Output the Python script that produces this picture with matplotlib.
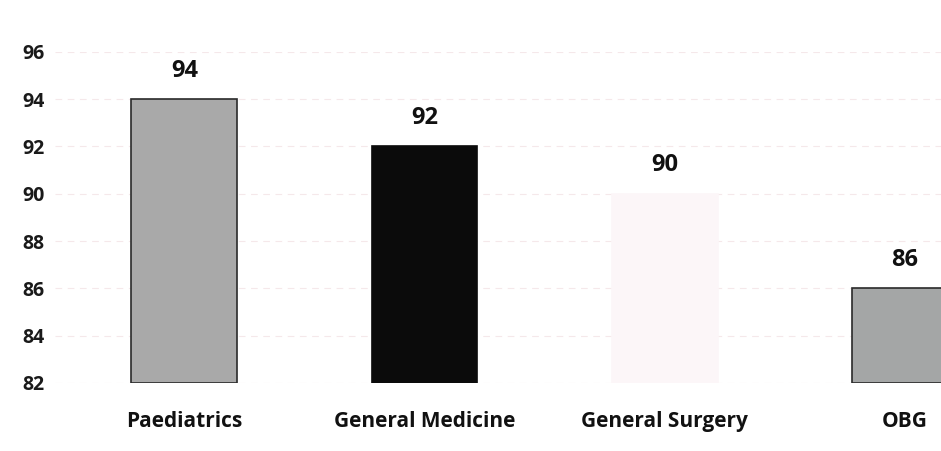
import numpy as np
import matplotlib.pyplot as plt

plt.rcParams['font.family'] = ['Open Sans', 'DejaVu Sans']

departments = ["Paediatrics", "General Medicine", "General Surgery", "OBG"]
scores = [94, 92, 90, 86]
bar_colors = ["#a9a9a9", "#0b0b0b", "#fcf6f8", "#a4a6a6"]
edge_colors = ["#2a2a2a", "#0b0b0b", "#fcf6f8", "#2a2a2a"]
yticks = [82, 84, 86, 88, 90, 92, 94, 96]

fig = plt.figure(figsize=(9.41, 4.51), dpi=100)
ax = fig.add_axes([0.058, 0.151, 0.942, 0.734])

x = np.arange(len(departments))
bars = ax.bar(x, [s - 82 for s in scores], bottom=82, width=0.44,
              color=bar_colors, edgecolor=edge_colors, linewidth=1.2, zorder=3)

for xi, s in zip(x, scores):
    ax.text(xi, s + 0.7, str(s), ha='center', va='bottom',
            fontsize=17, fontweight='bold', color='#111111')

ax.set_xlim(-0.54, 3.15)
ax.set_ylim(82, 96)
ax.set_yticks(yticks)
ax.set_yticklabels([str(t) for t in yticks], fontsize=14, fontweight='bold', color='#1a1a1a')
ax.set_xticks(x)
ax.set_xticklabels(departments, fontsize=15, fontweight='bold', color='#111111')
ax.tick_params(axis='both', length=0)
ax.tick_params(axis='x', pad=20)
ax.tick_params(axis='y', pad=7)

ax.yaxis.grid(True, color='#f5e8ea', linewidth=0.8, linestyle=(0, (6, 5)), zorder=0)
for sp in ax.spines.values():
    sp.set_visible(False)

fig.savefig("out.png", dpi=100)
